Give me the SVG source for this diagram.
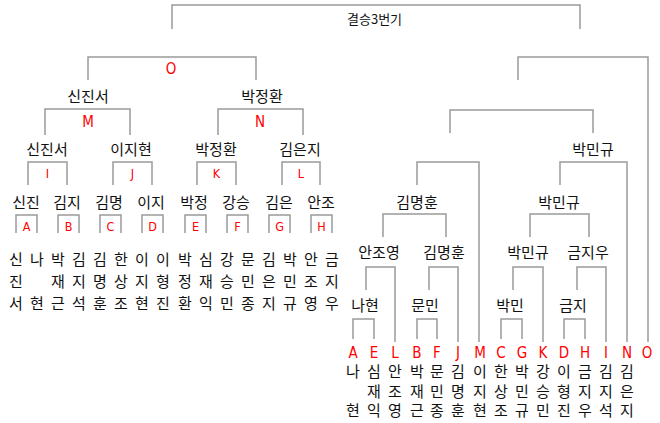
<svg xmlns="http://www.w3.org/2000/svg" width="660" height="423" viewBox="0 0 660 423">
<style>
.ln{fill:none;stroke:#9a9a9a;stroke-width:1.5}
.t{font-family:"Noto Sans CJK KR","Noto Sans",sans-serif;font-size:15px;fill:#111;text-anchor:middle}
.tt{font-family:"Noto Sans CJK KR","Noto Sans",sans-serif;font-size:13px;fill:#111}
.r{font-family:"Liberation Sans Narrow","DejaVu Sans Condensed","Liberation Sans",sans-serif;fill:#f00;text-anchor:middle}
.rs{font-size:12.5px}
.rb{font-size:15px}
</style>
<rect width="660" height="423" fill="#fff"/>
<g id="connectors">
<path class="ln" d="M172 29V5H580V29"/>
<path class="ln" d="M88 80V57H256V80"/>
<path class="ln" d="M45 135V109H130V135"/>
<path class="ln" d="M218 135V109H303V135"/>
<path class="ln" d="M28 185V162H67V185"/>
<path class="ln" d="M113 185V162H152V185"/>
<path class="ln" d="M197 185V162H236V185"/>
<path class="ln" d="M282 185V162H320V185"/>
<path class="ln" d="M16 233V215H37V233"/>
<path class="ln" d="M58 233V215H79V233"/>
<path class="ln" d="M100 233V215H121V233"/>
<path class="ln" d="M142 233V215H163V233"/>
<path class="ln" d="M185 233V215H206V233"/>
<path class="ln" d="M227 233V215H248V233"/>
<path class="ln" d="M269 233V215H290V233"/>
<path class="ln" d="M311 233V215H332V233"/>
<path class="ln" d="M518 80V57H648V342"/>
<path class="ln" d="M450 133V110H593V133"/>
<path class="ln" d="M417 185V162H479V342"/>
<path class="ln" d="M560 185V162H627V342"/>
<path class="ln" d="M383 237V214H446V237"/>
<path class="ln" d="M530 237V214H589V237"/>
<path class="ln" d="M366 290V267H395V342"/>
<path class="ln" d="M429 290V267H458V342"/>
<path class="ln" d="M513 290V267H543V342"/>
<path class="ln" d="M577 290V267H606V342"/>
<path class="ln" d="M353 339V319H374V339"/>
<path class="ln" d="M417 339V319H437V339"/>
<path class="ln" d="M501 339V319H522V339"/>
<path class="ln" d="M564 339V319H585V339"/>
</g>
<g id="title"><text class="tt" x="347" y="24">결승3번기</text></g>
<g id="final-left">
<text class="r rb" x="171" y="74">O</text>
<text class="t" x="88" y="102">신진서</text>
<text class="t" x="262" y="102">박정환</text>
<text class="r rb" x="88" y="127">M</text>
<text class="r rb" x="260" y="127">N</text>
</g>
<g id="round3-left">
<text class="t" x="47" y="155">신진서</text>
<text class="t" x="131" y="155">이지현</text>
<text class="t" x="216" y="155">박정환</text>
<text class="t" x="300" y="155">김은지</text>
<text class="r rs" x="47.5" y="178">I</text>
<text class="r rs" x="132.5" y="178">J</text>
<text class="r rs" x="216.5" y="178">K</text>
<text class="r rs" x="301" y="178">L</text>
</g>
<g id="round2-left">
<text class="t" x="26" y="208">신진</text>
<text class="t" x="67" y="208">김지</text>
<text class="t" x="109" y="208">김명</text>
<text class="t" x="151" y="208">이지</text>
<text class="t" x="194" y="208">박정</text>
<text class="t" x="236" y="208">강승</text>
<text class="t" x="279" y="208">김은</text>
<text class="t" x="321" y="208">안조</text>
<text class="r rs" x="26.5" y="231">A</text>
<text class="r rs" x="68.5" y="231">B</text>
<text class="r rs" x="110.5" y="231">C</text>
<text class="r rs" x="152.5" y="231">D</text>
<text class="r rs" x="195.5" y="231">E</text>
<text class="r rs" x="237.5" y="231">F</text>
<text class="r rs" x="279.5" y="231">G</text>
<text class="r rs" x="321.5" y="231">H</text>
</g>
<g id="players-left">
<text class="t" x="16" y="265">신</text><text class="t" x="16" y="287">진</text><text class="t" x="16" y="309">서</text>
<text class="t" x="37" y="265">나</text><text class="t" x="37" y="309">현</text>
<text class="t" x="58" y="265">박</text><text class="t" x="58" y="287">재</text><text class="t" x="58" y="309">근</text>
<text class="t" x="79" y="265">김</text><text class="t" x="79" y="287">지</text><text class="t" x="79" y="309">석</text>
<text class="t" x="100" y="265">김</text><text class="t" x="100" y="287">명</text><text class="t" x="100" y="309">훈</text>
<text class="t" x="121" y="265">한</text><text class="t" x="121" y="287">상</text><text class="t" x="121" y="309">조</text>
<text class="t" x="142" y="265">이</text><text class="t" x="142" y="287">지</text><text class="t" x="142" y="309">현</text>
<text class="t" x="163" y="265">이</text><text class="t" x="163" y="287">형</text><text class="t" x="163" y="309">진</text>
<text class="t" x="185" y="265">박</text><text class="t" x="185" y="287">정</text><text class="t" x="185" y="309">환</text>
<text class="t" x="206" y="265">심</text><text class="t" x="206" y="287">재</text><text class="t" x="206" y="309">익</text>
<text class="t" x="227" y="265">강</text><text class="t" x="227" y="287">승</text><text class="t" x="227" y="309">민</text>
<text class="t" x="248" y="265">문</text><text class="t" x="248" y="287">민</text><text class="t" x="248" y="309">종</text>
<text class="t" x="269" y="265">김</text><text class="t" x="269" y="287">은</text><text class="t" x="269" y="309">지</text>
<text class="t" x="290" y="265">박</text><text class="t" x="290" y="287">민</text><text class="t" x="290" y="309">규</text>
<text class="t" x="311" y="265">안</text><text class="t" x="311" y="287">조</text><text class="t" x="311" y="309">영</text>
<text class="t" x="332" y="265">금</text><text class="t" x="332" y="287">지</text><text class="t" x="332" y="309">우</text>
</g>
<g id="right-names">
<text class="t" x="593" y="155">박민규</text>
<text class="t" x="417" y="208">김명훈</text>
<text class="t" x="559" y="208">박민규</text>
<text class="t" x="379" y="258">안조영</text>
<text class="t" x="444" y="258">김명훈</text>
<text class="t" x="528" y="258">박민규</text>
<text class="t" x="588" y="258">금지우</text>
<text class="t" x="365" y="311">나현</text>
<text class="t" x="425" y="311">문민</text>
<text class="t" x="510" y="311">박민</text>
<text class="t" x="573" y="311">금지</text>
</g>
<g id="right-labels">
<text class="r rb" x="353" y="358">A</text>
<text class="r rb" x="374" y="358">E</text>
<text class="r rb" x="395" y="358">L</text>
<text class="r rb" x="417" y="358">B</text>
<text class="r rb" x="437" y="358">F</text>
<text class="r rb" x="458" y="358">J</text>
<text class="r rb" x="480" y="358">M</text>
<text class="r rb" x="501" y="358">C</text>
<text class="r rb" x="522" y="358">G</text>
<text class="r rb" x="543" y="358">K</text>
<text class="r rb" x="564" y="358">D</text>
<text class="r rb" x="585" y="358">H</text>
<text class="r rb" x="606" y="358">I</text>
<text class="r rb" x="627" y="358">N</text>
<text class="r rb" x="647" y="358">O</text>
</g>
<g id="players-right">
<text class="t" x="353" y="377">나</text><text class="t" x="353" y="416">현</text>
<text class="t" x="374" y="377">심</text><text class="t" x="374" y="397">재</text><text class="t" x="374" y="416">익</text>
<text class="t" x="395" y="377">안</text><text class="t" x="395" y="397">조</text><text class="t" x="395" y="416">영</text>
<text class="t" x="417" y="377">박</text><text class="t" x="417" y="397">재</text><text class="t" x="417" y="416">근</text>
<text class="t" x="437" y="377">문</text><text class="t" x="437" y="397">민</text><text class="t" x="437" y="416">종</text>
<text class="t" x="458" y="377">김</text><text class="t" x="458" y="397">명</text><text class="t" x="458" y="416">훈</text>
<text class="t" x="480" y="377">이</text><text class="t" x="480" y="397">지</text><text class="t" x="480" y="416">현</text>
<text class="t" x="501" y="377">한</text><text class="t" x="501" y="397">상</text><text class="t" x="501" y="416">조</text>
<text class="t" x="522" y="377">박</text><text class="t" x="522" y="397">민</text><text class="t" x="522" y="416">규</text>
<text class="t" x="543" y="377">강</text><text class="t" x="543" y="397">승</text><text class="t" x="543" y="416">민</text>
<text class="t" x="564" y="377">이</text><text class="t" x="564" y="397">형</text><text class="t" x="564" y="416">진</text>
<text class="t" x="585" y="377">금</text><text class="t" x="585" y="397">지</text><text class="t" x="585" y="416">우</text>
<text class="t" x="606" y="377">김</text><text class="t" x="606" y="397">지</text><text class="t" x="606" y="416">석</text>
<text class="t" x="627" y="377">김</text><text class="t" x="627" y="397">은</text><text class="t" x="627" y="416">지</text>
</g>
</svg>
